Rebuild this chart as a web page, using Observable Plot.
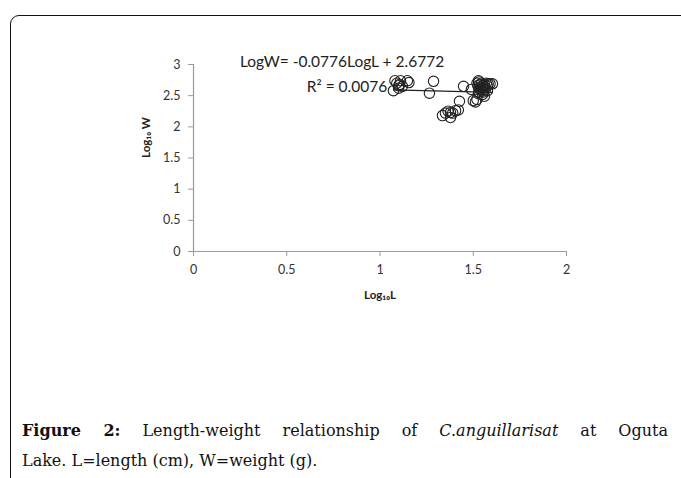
<!DOCTYPE html>
<html>
<head>
<meta charset="utf-8">
<script src="https://cdn.jsdelivr.net/npm/d3@7"></script>
<script src="https://cdn.jsdelivr.net/npm/@observablehq/plot@0.6"></script>
<style>
  html, body { margin: 0; padding: 0; background: #fff; }
  #wrap { position: relative; width: 681px; height: 478px; overflow: hidden; }
  #frame { position: absolute; left: 10px; top: 15px; width: 720px; height: 520px;
           border: 1.5px solid #111; border-top-left-radius: 9px; box-sizing: border-box; }
  #chart { position: absolute; left: 0; top: 0; }
  #caption { position: absolute; left: 22px; top: 416px; width: 646px;
             font-family: "DejaVu Serif", "Liberation Serif", serif; font-size: 16px;
             line-height: 30px; color: #111; }
  #caption .l1 { text-align: justify; text-align-last: justify; }
  #caption b { font-weight: bold; }
</style>
</head>
<body>
<div id="wrap">
  <div id="frame"></div>
  <div id="chart"></div>
  <div id="caption">
    <div class="l1"><b>Figure 2:</b> Length-weight relationship of <i>C.anguillarisat</i> at Oguta</div>
    <div>Lake. L=length (cm), W=weight (g).</div>
  </div>
</div>
<script>
// Observed log10 length values
const logL = [
  1.072, 1.08, 1.09, 1.10, 1.10, 1.105, 1.11, 1.12, 1.147, 1.155,
  1.265, 1.287,
  1.335, 1.351, 1.365, 1.378, 1.378, 1.39, 1.405, 1.42, 1.426, 1.448,
  1.49, 1.50, 1.512, 1.52,
  1.52, 1.525, 1.53, 1.53, 1.535, 1.54, 1.54, 1.545, 1.55, 1.55,
  1.555, 1.56, 1.56, 1.565, 1.57, 1.575, 1.58, 1.59, 1.603, 1.55,
  1.56, 1.545, 1.53, 1.576, 1.528, 1.528
];
// Observed log10 weight values
const logW = [
  2.58, 2.74, 2.70, 2.66, 2.62, 2.68, 2.74, 2.65, 2.74, 2.71,
  2.54, 2.73,
  2.18, 2.22, 2.25, 2.23, 2.15, 2.22, 2.26, 2.27, 2.41, 2.65,
  2.60, 2.42, 2.40, 2.44,
  2.70, 2.66, 2.62, 2.72, 2.68, 2.64, 2.60, 2.70, 2.66, 2.62,
  2.56, 2.68, 2.64, 2.60, 2.70, 2.66, 2.69, 2.69, 2.69, 2.52,
  2.49, 2.58, 2.56, 2.58, 2.53, 2.74
];
const slope = -0.0776;
const intercept = 2.6772;
const equationText = "LogW= -0.0776LogL + 2.6772";
const r2Text = "R² = 0.0076";
const xTicks = [0, 0.5, 1, 1.5, 2];
const yTicks = [0, 0.5, 1, 1.5, 2, 2.5, 3];

const points = logL.map((x, i) => ({x, y: logW[i]}));
const xMin = d3.min(logL), xMax = d3.max(logL);
const fit = [xMin, xMax].map(x => ({x, y: slope * x + intercept}));

const font = "Lato, 'Open Sans', sans-serif";
const fmt = d => String(d);

const chart = Plot.plot({
  width: 681,
  height: 330,
  marginLeft: 193,
  marginRight: 115,
  marginTop: 64,
  marginBottom: 79,
  style: {fontFamily: font, background: "transparent", overflow: "visible"},
  x: {domain: [0, 2]},
  y: {domain: [0, 3]},
  marks: [
    Plot.ruleY([0], {stroke: "#9a9a9a", strokeWidth: 1.2}),
    Plot.ruleX([0], {stroke: "#9a9a9a", strokeWidth: 1.2}),
    Plot.axisX({ticks: xTicks, tickFormat: fmt, tickSize: 5, tickPadding: 9, stroke: "#9a9a9a",
      fill: "#333", fontSize: 12.5, label: null}),
    Plot.axisY({ticks: yTicks, tickFormat: fmt, tickSize: 5, tickPadding: 8, stroke: "#9a9a9a",
      fill: "#333", fontSize: 12.5, label: null}),
    Plot.text(["Log₁₀L"], {frameAnchor: "bottom", dy: 47, fontWeight: "bold",
      fontSize: 11.5, fill: "#222"}),
    Plot.text(["Log₁₀ W"], {frameAnchor: "left", dx: -47, rotate: -90, fontWeight: "bold",
      fontSize: 11.5, fill: "#222"}),
    Plot.line(fit, {x: "x", y: "y", stroke: "#222", strokeWidth: 1.3}),
    Plot.dot(points, {x: "x", y: "y", r: 5.2, stroke: "#222", strokeWidth: 1.1, fill: "none"}),
    Plot.text([equationText], {frameAnchor: "top", dx: -38, dy: -9, fontSize: 15.5, fill: "#222"}),
    Plot.text([r2Text], {frameAnchor: "top", dx: -33, dy: 16, fontSize: 15.5, fill: "#222"})
  ]
});
document.getElementById("chart").appendChild(chart);
</script>
</body>
</html>
